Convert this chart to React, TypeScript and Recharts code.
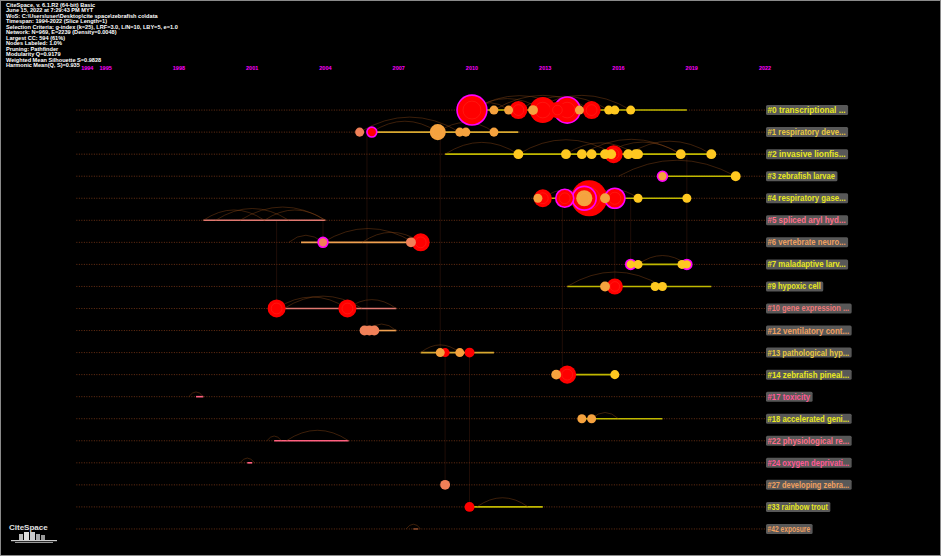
import { ScatterChart, Scatter, XAxis, YAxis, ZAxis, ReferenceLine } from "recharts";

// cluster rows, top to bottom
const clusterIds = [0, 1, 2, 3, 4, 5, 6, 7, 9, 10, 12, 13, 14, 17, 18, 22, 24, 27, 33, 42];
const clusterLabels = [
  "transcriptional ...", "respiratory deve...", "invasive lionfis...", "zebrafish larvae",
  "respiratory gase...", "spliced aryl hyd...", "vertebrate neuro...", "maladaptive larv...",
  "hypoxic cell", "gene expression ...", "ventilatory cont...", "pathological hyp...",
  "zebrafish pineal...", "toxicity", "accelerated geni...", "physiological re...",
  "oxygen deprivati...", "developing zebra...", "rainbow trout", "exposure",
];
const labelTones = ["y", "g", "y", "y", "y", "p", "o", "y", "y", "s", "o", "g", "y", "m", "y", "p", "m", "o", "y", "o"];
const spanStart = [2010.0, 2005.9, 2008.9, 2017.8, 2012.7, 1999.0, 2003.0, 2016.5, 2013.9, 2002.0, 2005.7, 2007.9, 2013.9, 1998.7, 2014.5, 2001.9, 2000.8, 2008.9, 2009.9, 2007.6];
const spanEnd = [2018.8, 2011.9, 2019.8, 2020.8, 2018.8, 2004.0, 2007.6, 2018.8, 2019.8, 2006.9, 2006.9, 2010.9, 2015.85, 1999.0, 2017.8, 2004.95, 2001.0, 2008.9, 2012.9, 2007.8];
const spanTones = ["y", "g", "y", "y", "y", "s", "o", "y", "y", "s", "o", "g", "y", "p", "y", "p", "p", "o", "y", "b"];

const yearTicks = [1994, 1995, 1998, 2001, 2004, 2007, 2010, 2013, 2016, 2019, 2022];

// [cluster, year, citations, heat, burst]
const nodes: [number, number, number, string, number][] = [
  [0, 2010.0, 55, "r", 1], [0, 2010.9, 5, "o", 0], [0, 2011.5, 5, "o", 0], [0, 2011.9, 20, "r", 0],
  [0, 2012.9, 42, "r", 0], [0, 2012.5, 6, "o", 0], [0, 2013.9, 42, "r", 1], [0, 2013.5, 16, "r", 0],
  [0, 2014.4, 5, "o", 0], [0, 2014.9, 20, "r", 0], [0, 2015.6, 5, "y", 0], [0, 2015.85, 5, "y", 0],
  [0, 2016.5, 5, "y", 0],
  [1, 2005.4, 5, "s", 0], [1, 2005.9, 6, "r", 1], [1, 2008.6, 16, "o", 0], [1, 2009.5, 5, "o", 0],
  [1, 2009.75, 5, "o", 0], [1, 2010.9, 5, "o", 0],
  [2, 2011.9, 6, "y", 0], [2, 2013.85, 6, "y", 0], [2, 2014.5, 6, "y", 0], [2, 2014.9, 6, "y", 0],
  [2, 2015.45, 6, "y", 0], [2, 2015.8, 20, "r", 0], [2, 2015.7, 6, "y", 0], [2, 2016.4, 6, "y", 0],
  [2, 2016.7, 6, "y", 0], [2, 2016.8, 6, "y", 0], [2, 2018.55, 6, "y", 0], [2, 2019.8, 6, "y", 0],
  [3, 2017.8, 6, "o", 1], [3, 2020.8, 6, "y", 0],
  [4, 2012.9, 20, "r", 0], [4, 2012.7, 5, "o", 0], [4, 2013.8, 20, "r", 1], [4, 2014.8, 80, "r", 0],
  [4, 2014.6, 35, "r", 1], [4, 2014.6, 16, "o", 0], [4, 2015.45, 6, "o", 0], [4, 2015.85, 25, "r", 1],
  [4, 2016.8, 5, "y", 0], [4, 2018.8, 5, "y", 0],
  [6, 2003.9, 6, "s", 1], [6, 2007.5, 6, "s", 0], [6, 2007.9, 20, "r", 0],
  [7, 2016.5, 6, "y", 1], [7, 2016.8, 5, "y", 0], [7, 2018.6, 5, "y", 0], [7, 2018.8, 6, "y", 1],
  [9, 2015.45, 6, "o", 0], [9, 2015.85, 16, "r", 0], [9, 2017.5, 5, "y", 0], [9, 2017.8, 5, "y", 0],
  [10, 2002.0, 20, "r", 0], [10, 2004.9, 20, "r", 0],
  [12, 2005.6, 6, "s", 0], [12, 2005.8, 6, "s", 0], [12, 2006.0, 6, "s", 0],
  [13, 2008.9, 5, "r", 0], [13, 2008.7, 5, "o", 0], [13, 2009.9, 6, "r", 0], [13, 2009.5, 5, "o", 0],
  [14, 2013.45, 6, "o", 0], [14, 2013.9, 20, "r", 0], [14, 2015.85, 5, "y", 0],
  [18, 2014.5, 5, "o", 0], [18, 2014.9, 5, "o", 0],
  [27, 2008.9, 6, "s", 0],
  [33, 2009.9, 6, "r", 0],
];

// co-citation arcs within a cluster: [cluster, from, to]
const arcs: [number, number, number][] = [
  [0, 2010.0, 2012.9], [0, 2010.0, 2013.9], [0, 2010.9, 2014.9], [0, 2011.9, 2015.6], [0, 2012.5, 2016.5], [0, 2010.0, 2011.5],
  [1, 2005.9, 2008.6], [1, 2008.6, 2010.9], [1, 2005.4, 2009.5],
  [2, 2008.9, 2011.9], [2, 2011.9, 2015.8], [2, 2013.85, 2016.7], [2, 2014.5, 2018.55], [2, 2016.4, 2019.8], [2, 2015.45, 2018.55],
  [3, 2016.0, 2020.8],
  [4, 2012.9, 2014.8], [4, 2014.8, 2016.8],
  [5, 1999.0, 2001.5], [5, 2000.5, 2004.0], [5, 2001.5, 2004.0], [5, 1999.5, 2002.5],
  [6, 2002.5, 2003.9], [6, 2003.9, 2007.6], [6, 2005.5, 2007.9],
  [7, 2016.8, 2018.8], [9, 2013.9, 2017.8],
  [10, 2002.0, 2004.9], [10, 2002.3, 2005.5], [10, 2004.9, 2006.9],
  [12, 2005.7, 2006.9], [13, 2007.9, 2009.5], [18, 2014.9, 2016.0],
  [22, 2002.4, 2004.95], [22, 2001.6, 2002.2], [33, 2010.2, 2012.3],
  [17, 1998.4, 1999.0], [24, 2000.5, 2001.1], [42, 2007.3, 2007.9],
];

// links between clusters: [year, fromCluster, toCluster]
const links: [number, number, number][] = [
  [2002.0, 5, 10], [2005.7, 1, 12], [2008.7, 1, 13], [2008.9, 13, 27], [2009.9, 13, 33], [2013.7, 4, 14],
  [2003.9, 5, 6], [2015.85, 4, 9], [2018.8, 2, 7], [2016.5, 4, 7],
];

const headerLines = [
  "CiteSpace, v. 6.1.R2 (64-bit) Basic",
  "June 15, 2022 at 7:29:43 PM MYT",
  "WoS: C:\\Users\\user\\Desktop\\cite space\\zebrafish co\\data",
  "Timespan: 1994-2022 (Slice Length=1)",
  "Selection Criteria: g-index (k=25), LRF=3.0, L/N=10, LBY=5, e=1.0",
  "Network: N=969, E=2239 (Density=0.0048)",
  "Largest CC: 594 (61%)",
  "Nodes Labeled: 1.0%",
  "Pruning: Pathfinder",
  "Modularity Q=0.9179",
  "Weighted Mean Silhouette S=0.9828",
  "Harmonic Mean(Q, S)=0.935",
];

const HEAT: Record<string, string> = { y: "#ffc820", o: "#f5a23e", s: "#f08058", r: "#ff0000" };
const TONE: Record<string, string> = {
  y: "#e8e820", g: "#e8c840", o: "#f0a060", s: "#f07878", p: "#ff6f8a", m: "#ff5a96", b: "#8a4a2a",
};
const SPAN: Record<string, string> = {
  y: "#c0b800", g: "#d8a830", o: "#f0a050", s: "#e07870", p: "#ff6080", b: "#8a4a2a",
};

const W = 941;
const H = 556;
const MARGIN = { top: 57, right: 176, bottom: 5, left: 8 };
const X_DOMAIN: [number, number] = [1991, 2022];
const PX_PER_YEAR = (W - MARGIN.left - MARGIN.right) / (X_DOMAIN[1] - X_DOMAIN[0]);

const rowOf = (c: number) => clusterIds.indexOf(c);

const nodeData = nodes
  .map(([c, year, cites, heat, burst]) => ({ x: year, y: rowOf(c), z: cites, heat, burst }))
  .sort((a, b) => b.z - a.z);
const arcData = arcs.map(([c, from, to]) => ({ x: from, y: rowOf(c), span: to - from }));
const labelData = clusterIds.map((c, i) => ({
  x: X_DOMAIN[1], y: i, text: `#${c} ${clusterLabels[i]}`, tone: labelTones[i],
}));

const NodeShape = (p: any) => {
  const r = p.width ? p.width / 2 : Math.sqrt((p.size || 64) / Math.PI);
  const d = p.payload;
  return (
    <g>
      <circle cx={p.cx} cy={p.cy} r={r} fill={HEAT[d.heat]} stroke={d.burst ? "#ff00ff" : "none"} strokeWidth={1.6} />
      {r >= 7.5 && (
        <circle cx={p.cx} cy={p.cy} r={r * 0.6} fill="none" stroke="#ffb080" strokeOpacity={0.15} strokeWidth={0.8} />
      )}
    </g>
  );
};

const ArcShape = (p: any) => {
  const w = p.payload.span * PX_PER_YEAR;
  const h = Math.min(3 + w * 0.12, 16);
  return (
    <path
      d={`M${p.cx},${p.cy} Q${p.cx + w / 2},${p.cy - h * 2} ${p.cx + w},${p.cy}`}
      fill="none"
      stroke="#8a4818"
      strokeOpacity={0.55}
      strokeWidth={0.8}
    />
  );
};

const LabelShape = (p: any) => {
  const d = p.payload;
  const tw = d.text.length * 3.55;
  return (
    <g>
      <rect x={p.cx + 1} y={p.cy - 5} width={tw + 4} height={10} rx={1.5} fill="#585858" />
      <text
        x={p.cx + 2.5}
        y={p.cy + 3}
        fontSize={8.5}
        fontWeight="bold"
        fontFamily="Liberation Sans, Arial, sans-serif"
        fill={TONE[d.tone]}
        textLength={tw}
        lengthAdjust="spacingAndGlyphs"
      >
        {d.text}
      </text>
    </g>
  );
};

const YearTick = (p: any) => (
  <text
    x={p.x + (p.payload.value === 1994 ? 6 : 0)}
    y={p.y - 7}
    textAnchor="middle"
    fontSize={5.5}
    fontWeight="bold"
    fontFamily="Liberation Sans, Arial, sans-serif"
    fill="#ff00ff"
  >
    {p.payload.value}
  </text>
);

export default function App() {
  return (
    <div
      style={{
        position: "absolute", left: 0, top: 0, width: W, height: H, background: "#000",
        boxSizing: "border-box", border: "1px solid #8a8a8a", overflow: "hidden",
      }}
    >
      <ScatterChart width={W} height={H} margin={MARGIN} style={{ position: "absolute", left: -1, top: -1 }}>
        <XAxis
          type="number"
          dataKey="x"
          orientation="top"
          domain={X_DOMAIN}
          ticks={yearTicks}
          interval={0}
          minTickGap={0}
          tick={YearTick}
          tickSize={0}
          tickMargin={0}
          axisLine={false}
          tickLine={false}
          height={20}
        />
        <YAxis type="number" dataKey="y" domain={[-1.5, 20]} reversed hide />
        <ZAxis type="number" dataKey="z" domain={[5, 80]} range={[64, 1018]} />

        {clusterIds.map((c, i) => (
          <ReferenceLine
            key={`bg-${c}`}
            segment={[{ x: 1993.8, y: i }, { x: X_DOMAIN[1], y: i }]}
            stroke="#6a3014"
            strokeDasharray="1 1.5"
            strokeWidth={1}
          />
        ))}
        {links.map(([year, a, b], i) => (
          <ReferenceLine
            key={`lk-${i}`}
            segment={[{ x: year, y: rowOf(a) }, { x: year, y: rowOf(b) }]}
            stroke="#5a2414"
            strokeOpacity={0.5}
            strokeWidth={0.7}
          />
        ))}
        {clusterIds.map((c, i) => (
          <ReferenceLine
            key={`sp-${c}`}
            segment={[{ x: spanStart[i], y: i }, { x: spanEnd[i], y: i }]}
            stroke={SPAN[spanTones[i]]}
            strokeWidth={1.6}
          />
        ))}

        <Scatter data={arcData} shape={ArcShape} isAnimationActive={false} />
        <Scatter data={nodeData} shape={NodeShape} isAnimationActive={false} />
        <Scatter data={labelData} shape={LabelShape} isAnimationActive={false} />
      </ScatterChart>

      <div
        style={{
          position: "absolute", left: 5, top: 2, color: "#fff", fontFamily: "Liberation Sans, Arial, sans-serif",
          fontWeight: "bold", fontSize: 5.6, lineHeight: "5.45px", whiteSpace: "pre",
        }}
      >
        {headerLines.map((l) => (
          <div key={l}>{l}</div>
        ))}
      </div>

      <svg width={60} height={30} style={{ position: "absolute", left: 4, top: 518 }}>
        <text x={4} y={11} fontSize={8} fontWeight="bold" fontFamily="Liberation Sans, Arial, sans-serif" fill="#e0e0e0">
          CiteSpace
        </text>
        <rect x={14} y={15} width={4} height={6} fill="#bbb" />
        <rect x={19} y={13} width={5} height={8} fill="#ddd" />
        <rect x={25} y={13} width={5} height={8} fill="#ccc" />
        <rect x={31} y={15} width={4} height={6} fill="#aaa" />
        <rect x={36} y={16} width={4} height={5} fill="#999" />
        <rect x={6} y={21} width={46} height={1.2} fill="#ccc" />
        <rect x={10} y={23} width={38} height={1} fill="#999" />
      </svg>
    </div>
  );
}
